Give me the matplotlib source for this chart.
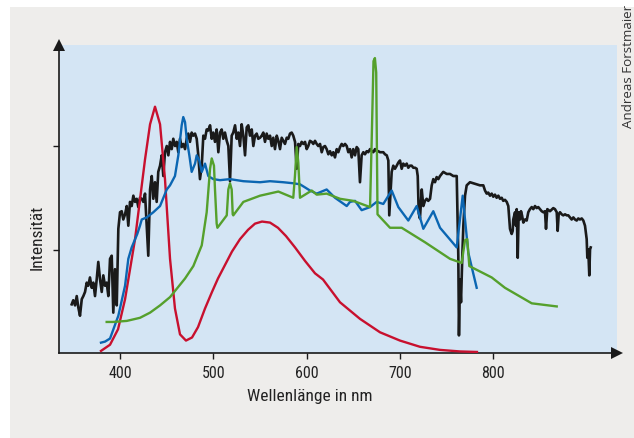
import matplotlib
matplotlib.use("Agg")
import matplotlib.pyplot as plt
from matplotlib.patches import Rectangle

# ---------------- data (wavelength in nm, relative intensity) ----------------
sun_nm = [348.2, 349.9, 351.8, 353.6, 355.3, 357.1, 359.0, 360.7, 362.5, 364.3, 366.0, 367.8, 369.7, 371.4,
          373.2, 375.0, 376.7, 378.6, 380.4, 382.1, 383.9, 385.7, 387.5, 389.3, 391.1, 392.8, 394.6, 396.5,
          398.2, 400.0, 401.8, 403.5, 405.4, 407.2, 408.9, 410.7, 412.5, 414.3, 416.1, 417.9, 419.6, 421.4,
          423.3, 425.0, 426.8, 428.6, 430.3, 432.2, 434.0, 435.7, 437.5, 439.3, 441.0, 442.9, 444.7, 446.4,
          448.2, 450.1, 451.8, 453.6, 455.4, 457.1, 459.0, 460.8, 462.5, 464.3, 466.1, 467.8, 469.7, 471.5,
          473.2, 475.0, 476.8, 478.6, 480.4, 482.2, 483.9, 485.7, 487.6, 489.3, 491.1, 492.9, 494.6, 496.5,
          498.3, 500.0, 501.8, 503.6, 505.4, 507.2, 509.0, 510.7, 512.5, 514.4, 516.1, 517.9, 519.7, 521.4,
          523.3, 525.1, 526.8, 528.6, 530.4, 532.2, 534.0, 535.8, 537.5, 539.3, 541.2, 542.9, 544.7, 546.5,
          548.2, 550.1, 551.9, 553.6, 555.4, 557.2, 558.9, 560.8, 562.6, 564.3, 566.1, 568.0, 569.7, 571.5,
          573.3, 575.0, 576.8, 578.7, 580.4, 582.2, 584.0, 585.7, 587.6, 589.4, 591.1, 592.9, 594.7, 596.5,
          598.3, 600.1, 601.8, 603.6, 605.5, 607.2, 609.0, 610.8, 612.5, 614.4, 616.2, 617.9, 619.7, 621.5,
          623.3, 625.1, 626.9, 628.6, 630.4, 632.3, 634.0, 635.8, 637.6, 639.3, 641.2, 643.0, 644.7, 646.5,
          648.3, 650.0, 651.9, 653.7, 655.4, 657.2, 659.0, 660.8, 662.6, 664.4, 666.1, 668.0, 669.8, 671.5,
          673.3, 675.1, 676.8, 678.7, 682.2, 684.0, 685.9, 687.6, 688.6, 690.1, 691.2, 692.9, 694.7, 696.6,
          698.3, 700.1, 701.9, 703.6, 705.5, 707.3, 709.0, 710.8, 712.6, 714.4, 716.2, 718.0, 719.1, 720.2,
          721.5, 723.4, 725.1, 726.9, 728.7, 730.4, 732.3, 734.1, 735.8, 737.6, 739.4, 741.2, 743.0, 744.8,
          746.5, 750.2, 753.7, 757.2, 760.9, 762.6, 763.3, 764.4, 765.5, 766.9, 768.0, 769.8, 771.6, 775.1,
          778.7, 782.3, 785.8, 789.4, 791.2, 793.0, 794.7, 796.6, 798.4, 800.1, 801.9, 803.7, 805.5, 807.3,
          809.1, 810.8, 812.6, 814.5, 816.2, 818.0, 819.8, 820.9, 821.5, 823.4, 824.4, 825.2, 826.3, 827.3,
          828.7, 829.8, 830.9, 832.3, 834.1, 835.9, 837.6, 839.4, 841.3, 843.0, 844.8, 846.6, 848.3, 850.2,
          852.0, 853.7, 855.5, 856.6, 858.0, 860.9, 864.4, 866.2, 868.1, 869.1, 870.2, 871.6, 873.4, 875.1,
          877.0, 878.8, 880.5, 882.3, 884.1, 885.9, 887.7, 889.5, 891.2, 893.0, 894.9, 896.6, 898.4, 900.2,
          900.9, 901.9, 903.0, 903.8, 904.5]
sun_val = [0.47, 0.51, 0.46, 0.55, 0.44, 0.36, 0.52, 0.55, 0.59, 0.68, 0.65, 0.73, 0.63, 0.68,
           0.55, 0.71, 0.88, 0.71, 0.59, 0.75, 0.65, 0.68, 0.55, 0.91, 0.94, 0.39, 0.81, 0.46,
           1.20, 1.36, 1.37, 1.29, 1.34, 1.42, 1.23, 1.46, 1.42, 1.52, 1.46, 1.49, 1.41, 1.50,
           1.49, 1.46, 1.54, 1.23, 0.94, 1.58, 1.71, 1.49, 1.65, 1.46, 1.75, 1.81, 1.91, 1.71,
           1.94, 2.00, 1.91, 2.04, 1.97, 2.07, 2.00, 2.04, 1.94, 2.07, 1.99, 2.02, 1.97, 2.07,
           2.12, 2.04, 2.13, 2.10, 2.12, 2.07, 1.91, 1.68, 1.81, 2.10, 2.07, 2.16, 2.15, 2.20,
           2.07, 2.13, 2.04, 2.16, 1.94, 2.13, 2.16, 2.07, 2.13, 2.05, 2.00, 1.66, 2.10, 2.13,
           2.20, 2.07, 2.13, 2.00, 2.21, 2.10, 1.91, 2.18, 2.20, 2.10, 2.16, 2.00, 2.10, 2.12,
           2.07, 2.08, 2.10, 2.13, 2.04, 2.12, 2.07, 2.10, 2.00, 2.08, 1.97, 2.10, 2.05, 1.97,
           2.08, 2.05, 2.02, 2.08, 2.07, 2.12, 2.13, 2.10, 2.04, 1.78, 2.02, 2.00, 2.04, 2.02,
           2.04, 1.97, 2.00, 2.05, 2.04, 2.02, 2.05, 2.02, 2.00, 2.02, 1.94, 1.99, 2.00, 1.97,
           1.92, 1.95, 1.91, 1.94, 1.89, 1.97, 1.94, 1.99, 2.02, 2.00, 2.02, 2.00, 1.94, 1.97,
           1.89, 1.97, 1.91, 1.99, 1.97, 1.65, 1.91, 1.94, 1.92, 1.95, 1.94, 1.97, 1.95, 1.94,
           1.97, 1.95, 1.95, 1.94, 1.94, 1.92, 1.91, 1.86, 1.33, 1.58, 1.75, 1.81, 1.78, 1.81,
           1.84, 1.86, 1.78, 1.83, 1.81, 1.83, 1.79, 1.81, 1.81, 1.79, 1.79, 1.78, 1.71, 1.35,
           1.30, 1.58, 1.42, 1.47, 1.49, 1.47, 1.49, 1.62, 1.68, 1.65, 1.70, 1.68, 1.71, 1.73,
           1.75, 1.73, 1.73, 1.71, 1.71, 0.94, 0.17, 0.71, 0.49, 0.94, 1.23, 1.52, 1.62, 1.65,
           1.64, 1.63, 1.62, 1.62, 1.57, 1.54, 1.55, 1.52, 1.54, 1.51, 1.53, 1.50, 1.52, 1.49,
           1.50, 1.47, 1.48, 1.46, 1.42, 1.20, 1.15, 1.18, 1.29, 1.36, 1.23, 1.39, 0.92, 1.36,
           1.29, 1.37, 1.33, 1.26, 1.29, 1.28, 1.36, 1.39, 1.41, 1.39, 1.42, 1.40, 1.41, 1.39,
           1.37, 1.36, 1.37, 1.20, 1.39, 1.37, 1.40, 1.39, 1.36, 1.18, 1.34, 1.36, 1.34, 1.33,
           1.34, 1.33, 1.33, 1.31, 1.29, 1.31, 1.29, 1.28, 1.30, 1.29, 1.30, 1.28, 1.23, 1.10,
           0.92, 1.00, 0.75, 1.00, 1.02]

daylight_nm = [379.6, 383.9, 389.3, 398.2, 405.4, 408.9, 412.5, 418.5, 421.4, 423.3, 428.6, 435.7, 442.9,
               450.1, 453.6, 458.9, 462.5, 466.1, 467.8, 469.7, 471.5, 474.3, 476.8, 480.4, 482.2, 485.0,
               487.6, 491.1, 494.6, 500.0, 507.2, 517.9, 532.2, 550.1, 560.8, 575.0, 585.7, 592.9, 598.3,
               603.6, 610.8, 621.5, 630.4, 643.0, 646.5, 651.9, 659.0, 668.0, 675.1, 682.2, 691.2, 698.3,
               709.0, 718.0, 725.1, 735.8, 743.0, 760.9, 767.3, 773.3, 782.3]
daylight_val = [0.10, 0.11, 0.14, 0.36, 0.65, 0.91, 1.02, 1.15, 1.23, 1.29, 1.31, 1.36, 1.42,
                1.58, 1.62, 1.71, 1.91, 2.20, 2.28, 2.23, 2.07, 1.91, 1.75, 1.83, 1.91, 1.86,
                1.75, 1.83, 1.71, 1.68, 1.67, 1.68, 1.66, 1.65, 1.66, 1.65, 1.64, 1.63, 1.60,
                1.57, 1.54, 1.58, 1.50, 1.42, 1.46, 1.47, 1.38, 1.41, 1.46, 1.44, 1.57, 1.41,
                1.28, 1.42, 1.20, 1.37, 1.21, 1.02, 1.52, 0.97, 0.63]

lamp_nm = [385.7, 392.5, 407.2, 421.4, 432.2, 442.9, 453.6, 469.7, 478.6, 487.6, 492.9, 496.5, 498.3,
           500.7, 501.8, 503.6, 504.4, 514.4, 516.1, 517.9, 519.7, 520.8, 521.4, 532.2, 550.1, 569.7,
           585.7, 587.5, 589.4, 591.1, 592.9, 605.5, 610.8, 621.5, 635.8, 650.0, 668.0, 669.8, 671.7,
           673.2, 674.6, 676.0, 689.4, 701.9, 726.9, 753.7, 766.2, 769.8, 772.2, 774.4, 798.4, 812.6,
           841.3, 868.1]
lamp_val = [0.30, 0.30, 0.31, 0.34, 0.39, 0.46, 0.54, 0.72, 0.84, 1.04, 1.36, 1.78, 1.88,
            1.81, 1.58, 1.25, 1.21, 1.33, 1.58, 1.64, 1.58, 1.34, 1.33, 1.46, 1.52, 1.56,
            1.50, 1.71, 1.99, 1.84, 1.50, 1.57, 1.53, 1.54, 1.49, 1.47, 1.41, 2.07, 2.82,
            2.85, 2.71, 1.34, 1.21, 1.21, 1.07, 0.91, 0.87, 1.09, 1.10, 0.84, 0.73, 0.63,
            0.48, 0.45]

led_nm = [379.6, 389.3, 397.9, 405.4, 416.1, 426.8, 432.2, 437.5, 442.9, 448.2, 453.6, 458.9, 464.3,
          470.7, 477.2, 483.6, 491.1, 498.6, 505.0, 512.5, 520.0, 528.6, 537.2, 544.7, 552.2, 560.8,
          569.3, 577.9, 587.6, 598.3, 609.0, 617.6, 635.8, 657.2, 678.7, 700.1, 721.5, 743.0, 764.4,
          782.6]
led_val = [0.02, 0.08, 0.23, 0.52, 1.10, 1.87, 2.21, 2.38, 2.21, 1.68, 0.91, 0.43, 0.18,
           0.12, 0.15, 0.25, 0.43, 0.59, 0.72, 0.85, 0.98, 1.10, 1.19, 1.25, 1.27, 1.26,
           1.21, 1.13, 1.02, 0.89, 0.77, 0.71, 0.49, 0.33, 0.20, 0.12, 0.06, 0.03, 0.015,
           0.01]

x_ticks = [400, 500, 600, 700, 800]
y_ticks = [1, 2]
x_label = "Wellenlänge in nm"
y_label = "Intensität"
credit = "Andreas Forstmaier"

# ---------------- figure ----------------
W, H = 634, 439
fig = plt.figure(figsize=(W / 100, H / 100), dpi=100, facecolor="white")
bg = Rectangle((10 / W, 0), 1 - 10 / W, 1 - 8 / H, transform=fig.transFigure,
               facecolor="#eeedeb", edgecolor="none", zorder=-10)
fig.add_artist(bg)

ax = fig.add_axes([59 / W, (H - 354) / H, (617 - 59) / W, (354 - 46) / H])
ax.set_zorder(5)
ax.set_facecolor("#d4e5f4")
ax.set_xlim(334.6, 932.7)
ax.set_ylim(0, 2.976)

font = ["Liberation Sans Narrow", "Roboto Condensed", "Roboto", "DejaVu Sans"]

ax.plot(sun_nm, sun_val, color="#1a1a1a", lw=1.9, zorder=2, solid_joinstyle="round")
ax.plot(led_nm, led_val, color="#c8102e", lw=1.7, zorder=3)
ax.plot(daylight_nm, daylight_val, color="#0b66b2", lw=1.7, zorder=4)
ax.plot(lamp_nm, lamp_val, color="#55a02c", lw=1.7, zorder=5)

for s in ["top", "right"]:
    ax.spines[s].set_visible(False)
for s in ["left", "bottom"]:
    ax.spines[s].set_color("#1a1a1a")
    ax.spines[s].set_linewidth(1.2)

ax.set_xticks(x_ticks)
ax.set_xticklabels([str(t) for t in x_ticks], family=font, fontsize=11.5, color="#222222")
ax.set_yticks(y_ticks)
ax.set_yticklabels([])
ax.tick_params(axis="both", direction="out", length=4, width=1, color="#1a1a1a", pad=5)

# arrow heads
ax.plot([0], [1], marker="^", markersize=8, color="#1a1a1a", transform=ax.transAxes, clip_on=False,
        markeredgewidth=0, zorder=10)
ax.plot([1], [0], marker=">", markersize=8, color="#1a1a1a", transform=ax.transAxes, clip_on=False,
        markeredgewidth=0, zorder=10)

fig.text(310 / W, 1 - 397 / H, x_label, ha="center", va="center", family=font, fontsize=12.5,
         color="#222222")
fig.text(37 / W, 1 - 237 / H, y_label, ha="center", va="center", rotation=90, family=font,
         fontsize=12.5, color="#222222")
fig.text(628 / W, 1 - 128 / H, credit, ha="center", va="bottom", rotation=90,
         family=["Open Sans", "DejaVu Sans"], fontsize=9.6, color="#333333")

fig.savefig("out.png", dpi=100, facecolor=fig.get_facecolor())
